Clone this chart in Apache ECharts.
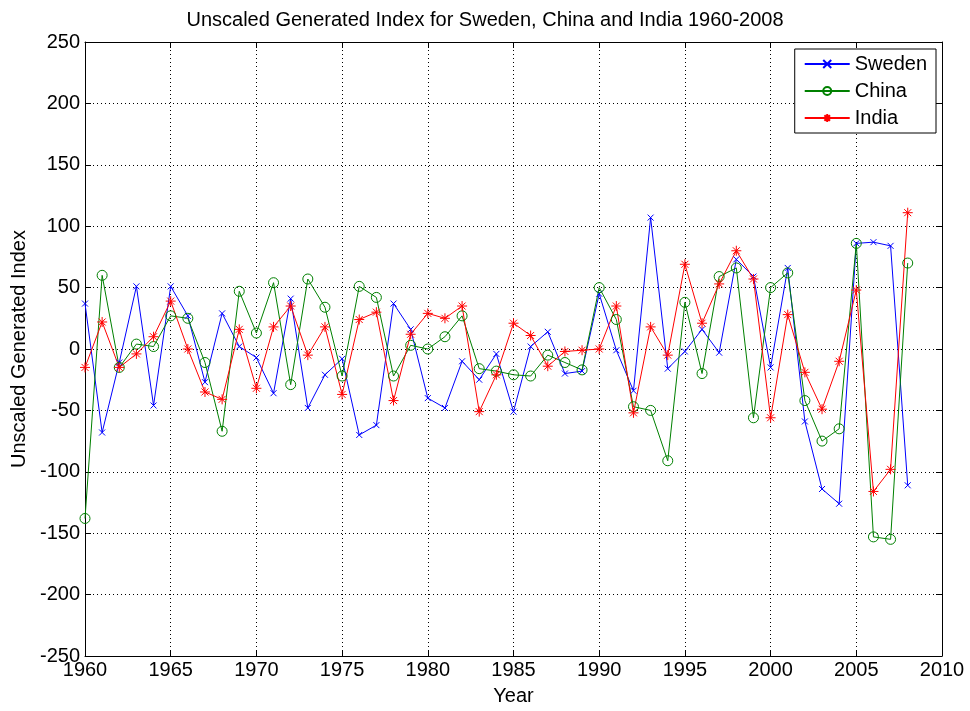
<!DOCTYPE html>
<html><head><meta charset="utf-8">
<script src="https://cdn.jsdelivr.net/npm/echarts@6/dist/echarts.min.js"></script>
<style>html,body{margin:0;padding:0;background:#fff}#c{width:970px;height:711px}</style>
</head><body><div id="c"></div>
<script>
const years = [1960,1961,1962,1963,1964,1965,1966,1967,1968,1969,1970,1971,1972,1973,1974,1975,1976,1977,1978,1979,1980,1981,1982,1983,1984,1985,1986,1987,1988,1989,1990,1991,1992,1993,1994,1995,1996,1997,1998,1999,2000,2001,2002,2003,2004,2005,2006,2007,2008];
const sweden = [37,-68,-11,51,-46,51,27,-27,29,2,-7,-36,41,-48,-21,-8,-70,-62,37,16,-40,-48,-10,-25,-4,-51,2,14,-20,-18,45,-1,-34,107,-16,-2,16,-3,73,59,-15,66,-59,-114,-126,86,87,84,-111];
const china = [-138,60,-15,4,2,27,25,-11,-67,47,13,54,-29,57,34,-22,51,42,-22,3,0,10,27,-16,-18,-21,-22,-5,-11,-17,50,24,-47,-50,-91,38,-20,59,66,-56,50,62,-42,-75,-65,86,-153,-155,70];
const india = [-15,22,-15,-4,10,39,0,-35,-41,16,-32,18,35,-5,18,-37,24,30,-42,12,29,25,35,-51,-21,21,11,-14,-2,-1,0,35,-52,18,-5,69,21,53,80,57,-56,28,-19,-49,-10,48,-116,-98,111];
const seriesNames = ['Sweden','China','India'];
const xTicks = {min:1960, max:2010, interval:5};
const yTicks = {min:-250, max:250, interval:50};

const pairs = arr => years.map((y,i)=>[y,arr[i]]);
const FONT = 'Liberation Sans, Arial, sans-serif';
const crossPath = 'path://M0,0L10,10M10,0L0,10';
const starPath = 'path://M5,0L5,10M0,5L10,5M1.5,1.5L8.5,8.5M8.5,1.5L1.5,8.5';
const colors = ['#0000ff','#008000','#ff0000'];
const symbols = [crossPath,'circle',starPath];
const sizes = [6,10,10];
const dataSets = [sweden,china,india];

const chart = echarts.init(document.getElementById('c'), null, {renderer:'canvas'});
const gridLine = {show:true, lineStyle:{color:'#000', type:[1,3], width:1}};
const axLine = {show:true, onZero:false, lineStyle:{color:'#000', width:1}};
const axTick = {show:true, inside:true, length:6, lineStyle:{color:'#000'}};
chart.setOption({
  animation:false,
  backgroundColor:'#fff',
  title:{text:'Unscaled Generated Index for Sweden, China and India 1960-2008', left:'center', top:5,
    textStyle:{fontFamily:FONT, fontSize:20, fontWeight:'normal', color:'#000'}},
  legend:{right:34, top:49, orient:'vertical', itemWidth:45, itemHeight:10, itemGap:7,
    backgroundColor:'#fff', borderColor:'#000', borderWidth:1, padding:[5,9,5,9],
    textStyle:{fontFamily:FONT, fontSize:20, color:'#000'}, data:seriesNames},
  grid:{left:85, right:28, top:42, bottom:53, containLabel:false},
  xAxis:[{type:'value', min:xTicks.min, max:xTicks.max, interval:xTicks.interval,
    name:'Year', nameLocation:'middle', nameGap:30, nameTextStyle:{fontFamily:FONT, fontSize:20, color:'#000'},
    axisLine:axLine, axisTick:axTick,
    axisLabel:{fontFamily:FONT, fontSize:20, color:'#000', margin:4, formatter:v=>String(v)},
    splitLine:gridLine},
   {type:'value', position:'top', min:xTicks.min, max:xTicks.max, interval:xTicks.interval,
    axisLine:axLine, axisTick:axTick, axisLabel:{show:false}, splitLine:{show:false}}],
  yAxis:[{type:'value', min:yTicks.min, max:yTicks.max, interval:yTicks.interval,
    name:'Unscaled Generated Index', nameLocation:'middle', nameGap:55, nameRotate:90,
    nameTextStyle:{fontFamily:FONT, fontSize:20, color:'#000'},
    axisLine:axLine, axisTick:axTick,
    axisLabel:{fontFamily:FONT, fontSize:20, color:'#000', margin:5},
    splitLine:gridLine},
   {type:'value', position:'right', min:yTicks.min, max:yTicks.max, interval:yTicks.interval,
    axisLine:axLine, axisTick:axTick, axisLabel:{show:false}, splitLine:{show:false}}],
  series: seriesNames.map((n,i)=>({
    name:n, type:'line', xAxisIndex:0, yAxisIndex:0,
    data:pairs(dataSets[i]),
    symbol:symbols[i], symbolSize:sizes[i], showAllSymbol:true,
    lineStyle:{color:colors[i], width:1},
    itemStyle:{color: i===1 ? 'rgba(0,0,0,0)' : colors[i], borderColor:colors[i], borderWidth:1},
    emphasis:{disabled:true}
  }))
});
</script></body></html>
